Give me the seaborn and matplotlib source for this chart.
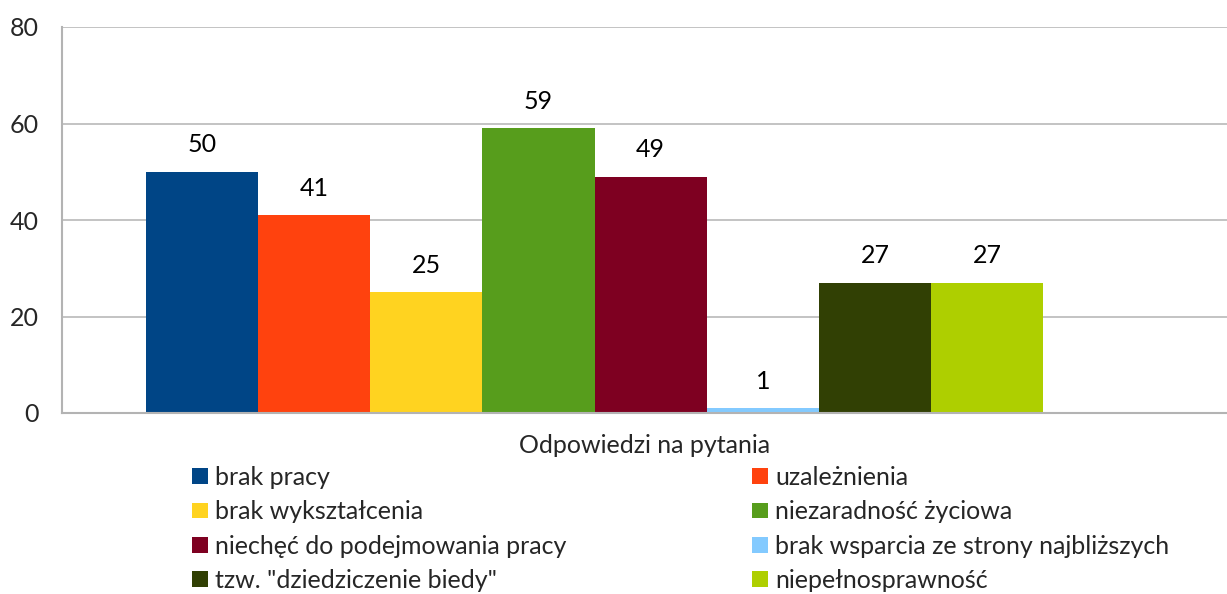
import matplotlib.pyplot as plt
import seaborn as sns
from matplotlib.patches import Patch

# Data
answers = [
    "brak pracy",
    "uzależnienia",
    "brak wykształcenia",
    "niezaradność życiowa",
    "niechęć do podejmowania pracy",
    "brak wsparcia ze strony najbliższych",
    'tzw. "dziedziczenie biedy"',
    "niepełnosprawność",
]
counts = [50, 41, 25, 59, 49, 1, 27, 27]
colors = ["#004586", "#FF420E", "#FFD320", "#579D1C",
          "#7E0021", "#83CAFF", "#314004", "#AECF00"]
y_ticks = [0, 20, 40, 60, 80]
axis_title = "Odpowiedzi na pytania"

sns.set_style("white")
plt.rcParams["font.family"] = ["Lato", "DejaVu Sans"]
FS = 18
GRID = "#b3b3b3"

fig = plt.figure(figsize=(12.27, 5.94), dpi=100)
ax = fig.add_axes([62 / 1227, 1 - 413 / 594, 1 - 62 / 1227, (413 - 27) / 594])

sns.barplot(x=answers, y=counts, hue=answers, palette=colors, order=answers,
            hue_order=answers, width=1.0, saturation=1, legend=False,
            linewidth=0, ax=ax)

for c in ax.containers:
    ax.bar_label(c, padding=11, fontsize=FS, color="black")

ax.set_ylim(0, 80)
ax.set_yticks(y_ticks)
ax.set_xlim(-1.25, 9.14)
ax.set_xticks([])
ax.yaxis.grid(True, color=GRID, lw=1.1)
ax.set_axisbelow(True)
ax.tick_params(axis="y", length=0, pad=17, labelsize=FS)
ax.set_ylabel("")
ax.set_xlabel(axis_title, fontsize=FS, labelpad=15)

for side in ["top", "right"]:
    ax.spines[side].set_visible(False)
for side in ["left", "bottom"]:
    ax.spines[side].set_color(GRID)
    ax.spines[side].set_linewidth(1.5)

# legend: two columns, row-major order like the original
for col, x0 in enumerate([192 / 1227, 752 / 1227]):
    idx = range(col, len(answers), 2)
    handles = [Patch(facecolor=colors[i], edgecolor="none") for i in idx]
    labels = [answers[i] for i in idx]
    fig.legend(handles, labels, loc="upper left", bbox_to_anchor=(x0, 1 - 466 / 594),
               frameon=False, fontsize=FS, handlelength=0.62, handleheight=0.6,
               handletextpad=0.3, labelspacing=0.45, borderaxespad=0, borderpad=0)

fig.savefig("out.png", dpi=100)
